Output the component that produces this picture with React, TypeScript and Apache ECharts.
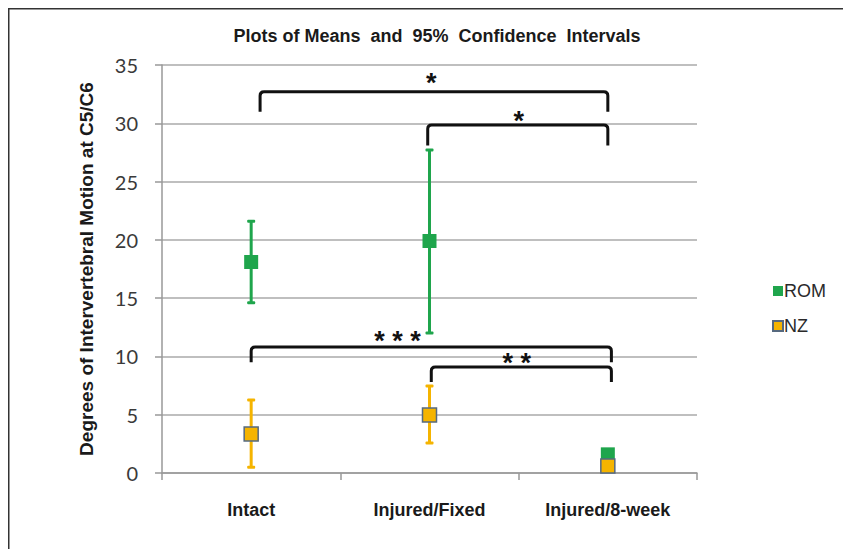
import React, { useEffect, useRef } from "react";
import * as echarts from "echarts";

const categories = ["Intact", "Injured/Fixed", "Injured/8-week"];
const romMean = [18.1, 19.9, 1.6];
const romLow = [14.6, 12.0, 1.3];
const romHigh = [21.6, 27.7, 2.0];
const nzMean = [3.35, 4.97, 0.6];
const nzLow = [0.5, 2.57, 0.4];
const nzHigh = [6.26, 7.46, 0.8];

// significance brackets (x positions in category units, y in data units)
const bracketFrom = [0.05, 0.99, 0.0, 1.01];
const bracketTo = [2.0, 2.0, 2.02, 2.02];
const bracketTop = [32.7, 29.85, 10.8, 9.1];
const bracketLeg = [31.0, 28.1, 9.5, 7.8];
const starX = [1.01, 1.5, 0.82, 1.49];
const starY = [34.0, 30.7, 11.85, 9.95];
const starText = ["*", "*", "* * *", "* *"];

const GREEN = "#1FA54C";
const ORANGE = "#F5B400";

function errBar(color: string) {
  return (params: any, api: any) => {
    const i = api.value(0);
    const lo = api.coord([i, api.value(1)]);
    const hi = api.coord([i, api.value(2)]);
    const cap = (p: number[]) => ({
      type: "rect",
      shape: { x: p[0] - 4, y: p[1] - 1.5, width: 8, height: 3, r: 1 },
      style: { fill: color },
    });
    return {
      type: "group",
      children: [
        {
          type: "line",
          shape: { x1: lo[0], y1: lo[1], x2: hi[0], y2: hi[1] },
          style: { stroke: color, lineWidth: 3 },
        },
        cap(lo),
        cap(hi),
      ],
    };
  };
}

export default function App() {
  const ref = useRef<HTMLDivElement>(null);
  useEffect(() => {
    if (!ref.current) return;
    const chart = echarts.init(ref.current, null, { renderer: "svg" });
    const xPix = (api: any, pos: number, v: number) => {
      const c0 = api.coord([0, v]);
      const c1 = api.coord([1, v]);
      return [c0[0] + pos * (c1[0] - c0[0]), c0[1]];
    };
    const option: any = {
      animation: false,
      backgroundColor: "#ffffff",
      title: {
        text: "Plots of Means  and  95%  Confidence  Intervals",
        left: 424,
        top: 14,
        textAlign: "center",
        textStyle: {
          fontFamily: "Liberation Sans",
          fontWeight: "bold",
          fontSize: 18,
          color: "#1a1a1a",
        },
      },
      graphic: [
        {
          type: "line",
          shape: { x1: 0, y1: 0.75, x2: 835, y2: 0.75 },
          style: { stroke: "#333", lineWidth: 1.5 },
          silent: true,
        },
        {
          type: "line",
          shape: { x1: 0.75, y1: 0, x2: 0.75, y2: 541 },
          style: { stroke: "#333", lineWidth: 1.5 },
          silent: true,
        },
      ],
      legend: {
        orient: "vertical",
        left: 759,
        top: 268,
        itemWidth: 10,
        itemHeight: 10,
        itemGap: 15,
        icon: "rect",
        data: ["ROM", "NZ"],
        textStyle: {
          fontFamily: "Liberation Sans",
          fontSize: 18,
          lineHeight: 20,
          color: "#2a2a2a",
          padding: [0, 0, 0, -4],
        },
      },
      grid: { left: 154, top: 57, width: 535, height: 408 },
      xAxis: {
        type: "category",
        data: categories,
        boundaryGap: true,
        axisLine: { lineStyle: { color: "#999", width: 1.5 } },
        axisTick: { show: true, length: 7, lineStyle: { color: "#999", width: 1.5 } },
        axisLabel: {
          margin: 28,
          fontFamily: "Liberation Sans",
          fontWeight: "bold",
          fontSize: 18,
          color: "#1a1a1a",
        },
      },
      yAxis: {
        type: "value",
        min: 0,
        max: 35,
        interval: 5,
        name: "Degrees of Intervertebral Motion at C5/C6",
        nameLocation: "middle",
        nameGap: 66,
        nameTextStyle: {
          fontFamily: "Liberation Sans",
          fontWeight: "bold",
          fontSize: 19,
          color: "#1a1a1a",
        },
        axisLine: { show: true, lineStyle: { color: "#999", width: 1.5 } },
        axisTick: { show: true, length: 7, lineStyle: { color: "#999", width: 1.5 } },
        splitLine: { lineStyle: { color: "#aaa", width: 1.5 } },
        axisLabel: {
          margin: 24,
          fontFamily: "Lato",
          fontSize: 20,
          color: "#3a3a3a",
        },
      },
      series: [
        {
          name: "ROM bars",
          type: "custom",
          renderItem: errBar(GREEN),
          data: categories.map((_, i) => [i, romLow[i], romHigh[i]]),
          z: 2,
        },
        {
          name: "ROM",
          type: "scatter",
          symbol: "rect",
          symbolSize: 14,
          itemStyle: { color: GREEN, opacity: 1 },
          data: categories.map((_, i) => [i, romMean[i]]),
          z: 3,
        },
        {
          name: "NZ bars",
          type: "custom",
          renderItem: errBar(ORANGE),
          data: categories.map((_, i) => [i, nzLow[i], nzHigh[i]]),
          z: 4,
        },
        {
          name: "NZ",
          type: "scatter",
          symbol: "rect",
          symbolSize: 14,
          itemStyle: { color: ORANGE, borderColor: "#56697F", borderWidth: 1.5, opacity: 1 },
          data: categories.map((_, i) => [i, nzMean[i]]),
          z: 5,
        },
        {
          name: "brackets",
          type: "custom",
          z: 6,
          data: bracketTop.map((v, i) => [i, v]),
          renderItem: (params: any, api: any) => {
            const k = params.dataIndex;
            const a = xPix(api, bracketFrom[k], bracketTop[k]);
            const b = xPix(api, bracketTo[k], bracketTop[k]);
            const yl = api.coord([0, bracketLeg[k]])[1];
            const yt = a[1];
            const r = 4;
            const d =
              `M ${a[0]} ${yl} L ${a[0]} ${yt + r} Q ${a[0]} ${yt} ${a[0] + r} ${yt} ` +
              `L ${b[0] - r} ${yt} Q ${b[0]} ${yt} ${b[0]} ${yt + r} L ${b[0]} ${yl}`;
            const s = xPix(api, starX[k], starY[k]);
            return {
              type: "group",
              children: [
                {
                  type: "path",
                  shape: { pathData: d },
                  style: { stroke: "#111", lineWidth: 3, fill: null, lineJoin: "round" },
                },
                {
                  type: "text",
                  style: {
                    text: starText[k],
                    x: s[0],
                    y: s[1] + 6,
                    align: "center",
                    verticalAlign: "middle",
                    font: 'bold 27px "Liberation Sans"',
                    fill: "#111",
                  },
                },
              ],
            };
          },
        },
      ],
    };
    chart.setOption(option);
    return () => chart.dispose();
  }, []);
  return (
    <div
      ref={ref}
      style={{ position: "fixed", left: 8, top: 8, width: 835, height: 541 }}
    />
  );
}
